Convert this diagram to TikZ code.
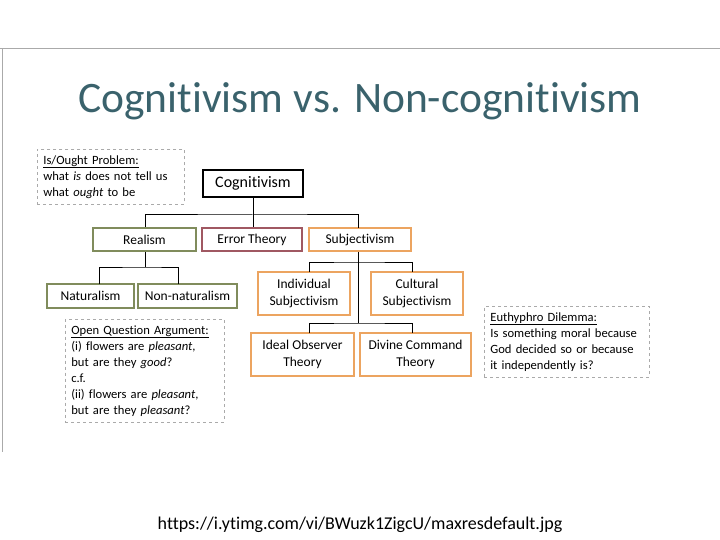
\documentclass[tikz,border=0pt]{standalone}
\usepackage{fontspec}
\setmainfont{Carlito}[Ligatures=NoCommon]
\usepackage{tikz}
\usetikzlibrary{positioning, calc}
\definecolor{myTeal}{RGB}{58,98,108}
\definecolor{myOlive}{RGB}{128,140,92}
\definecolor{myWine}{RGB}{160,88,98}
\definecolor{myOrange}{RGB}{236,164,96}
\definecolor{myGrey}{RGB}{170,170,170}

\begin{document}
\begin{tikzpicture}[
  x=1pt, y=-1pt,
  box/.style={draw, line width=1.6pt, font=\fontsize{13.5}{17}\selectfont, align=center, inner sep=2pt},
  green/.style={box, draw=myOlive},
  wine/.style={box, draw=myWine},
  orange/.style={box, draw=myOrange, minimum width=92, minimum height=43},
  note/.style={draw=myGrey, dashed, line width=0.7pt, font=\fontsize{12.6}{16}\selectfont,
    align=left, anchor=north west, inner sep=6pt},
  link/.style={line width=1pt},
]
  \useasboundingbox (0,0) rectangle (720,540);
  \draw[myGrey, line width=1pt] (0,49) -- (720,49);
  \draw[myGrey, line width=1pt] (2,49) -- (2,452);

  \node (title) at (360,101)
    {\fontsize{43.5}{48}\selectfont\color{myTeal}Cognitivism vs. Non-cognitivism};

  % the tree
  \node[box, line width=2pt, minimum width=100, minimum height=27, font=\fontsize{16}{18}\selectfont]
    (cog) at (253,183.5) {Cognitivism};
  \node[green, minimum width=103, minimum height=23] (realism) at (144.5,239.5) {Realism};
  \node[wine, minimum width=100, minimum height=23] (error) at (252,239.5) {Error Theory};
  \node[box, draw=myOrange, minimum width=102, minimum height=23] (subj) at (360,239.5) {Subjectivism};
  \node[green, minimum width=87, minimum height=24] (nat) at (90.5,296) {Naturalism};
  \node[green, minimum width=99, minimum height=24] (nonnat) at (187.5,296) {Non-naturalism};
  \node[orange] (indiv) at (304,293.5) {Individual\\Subjectivism};
  \node[orange] (cult) at (417,293.5) {Cultural\\Subjectivism};
  \node[orange, minimum width=103] (ideal) at (302.5,354.5) {Ideal Observer\\Theory};
  \node[orange, minimum width=111] (divine) at (415.5,354.5) {Divine Command\\Theory};

  \coordinate (cogbus) at (253,215);
  \draw[link] (cog.south) -- (cogbus);
  \draw[link] (realism.north -| 145,0) |- (cogbus) -| (358,228);
  \draw[link] (cogbus) -- (error.north -| cogbus);

  \coordinate (realbus) at (145,267);
  \draw[link] (realism.south -| realbus) -- (realbus);
  \draw[link] (99,284) |- (realbus) -| (178,284);

  \coordinate (subjtop) at (358,262);
  \coordinate (subjlow) at (358,323);
  \draw[link] (subj.south -| subjtop) -- (subjlow);
  \draw[link] (309,272) |- (subjtop) -| (412,272);
  \draw[link] (309,333) |- (subjlow) -| (412,333);

  % side notes
  \node[note, text width=135] (isought) at (37,149)
    {\underline{Is/Ought Problem:}\\ what \emph{is} does not tell us\\ what \emph{ought} to be\vphantom{g}};
  \node[note, text width=147] (oqa) at (65,319)
    {\underline{Open Question Argument:}\\ (i) flowers are \emph{pleasant},\\ but are they \emph{good}?\\ c.f.\\
     (ii) flowers are \emph{pleasant},\\ but are they \emph{pleasant}?};
  \node[note, text width=153] (euth) at (484,306)
    {\underline{Euthyphro Dilemma:}\\ Is something moral because\\ God decided so or because\\ it independently is?};

  \node (url) at (360,525) {\fontsize{18}{20}\selectfont https://i.ytimg.com/vi/BWuzk1ZigcU/maxresdefault.jpg};
\end{tikzpicture}
\end{document}
